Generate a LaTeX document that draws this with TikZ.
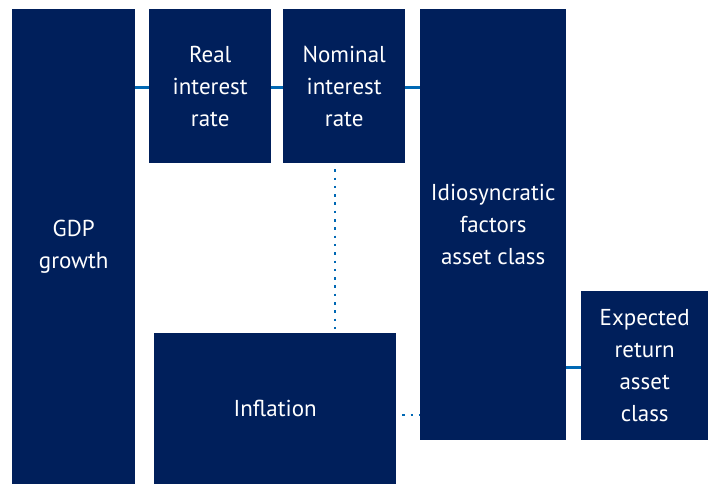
\documentclass[tikz,border=0pt]{standalone}
\usepackage{fontspec}
\setmainfont{PT Sans}
\definecolor{navy}{RGB}{0,31,91}
\definecolor{linkblue}{RGB}{0,104,180}
\tikzset{
  box/.style={fill=navy, text=white, anchor=north west, align=center,
    inner sep=0pt, font=\fontsize{23}{32}\selectfont},
  link/.style={linkblue, line width=3pt},
  dotlink/.style={linkblue, line width=2.5pt, dash pattern=on 2.5pt off 5.8pt}
}
\begin{document}
\begin{tikzpicture}[x=1pt, y=-1pt]
    \useasboundingbox (0, 0) rectangle (711, 484);

    \node[box, minimum width=123pt, minimum height=475pt] (gdp) at (12, 9) {GDP\\growth};
    \node[box, minimum width=122pt, minimum height=154pt] (real) at (149, 9) {Real\\interest\\rate};
    \node[box, minimum width=122pt, minimum height=154pt] (nominal) at (283, 9) {Nominal\\interest\\rate};
    \node[box, minimum width=146pt, minimum height=431pt] (idio) at (420, 9) {Idiosyncratic\\factors\\asset class};
    \node[box, minimum width=127pt, minimum height=149pt] (expected) at (581, 291) {Expected\\return\\asset\\class};
    \node[box, minimum width=242pt, minimum height=151pt] (inflation) at (154, 333) {Inflation};

    \coordinate (top) at (0, 88);
    \coordinate (mid) at (0, 367);
    \coordinate (low) at (0, 415);
    \coordinate (dotx) at (335, 0);

    \draw[link] (gdp.east |- top) -- (real.west |- top);
    \draw[link] (real.east |- top) -- (nominal.west |- top);
    \draw[link] (nominal.east |- top) -- (idio.west |- top);
    \draw[link] (idio.east |- mid) -- (expected.west |- mid);

    \draw[dotlink, dash phase=-5.8pt] (nominal.south -| dotx) -- (inflation.north -| dotx);
    \draw[dotlink, dash phase=-5.8pt] (inflation.east |- low) -- (idio.west |- low);
\end{tikzpicture}
\end{document}
